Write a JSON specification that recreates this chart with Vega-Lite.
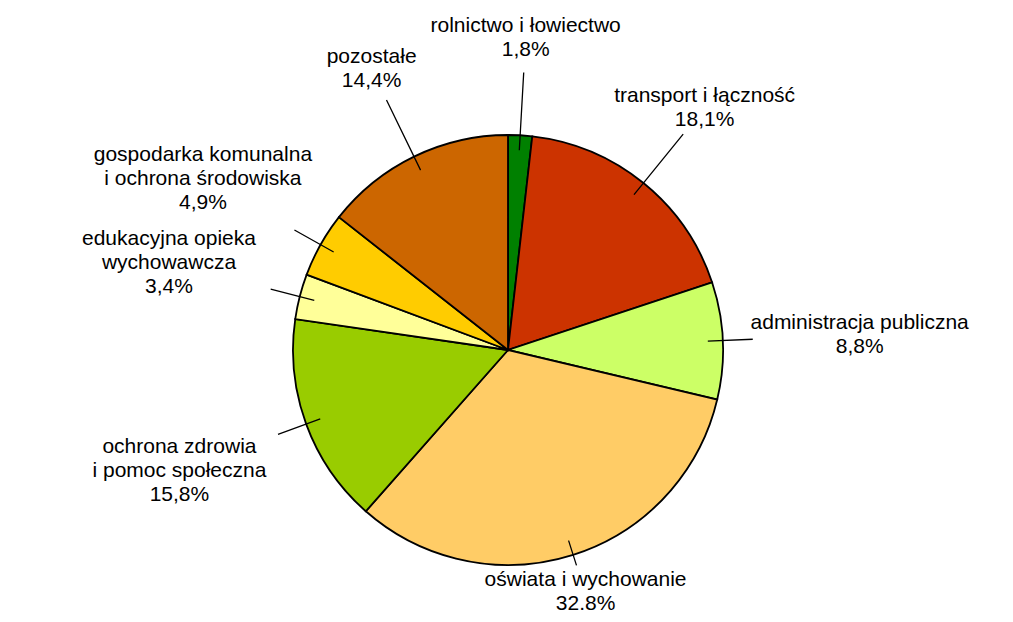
{
  "$schema": "https://vega.github.io/schema/vega-lite/v6.json",
  "width": 1016,
  "height": 540,
  "autosize": {"type": "none"},
  "padding": {"left": 0, "top": 80, "right": 0, "bottom": 0},
  "background": "white",
  "config": {"view": {"stroke": null}},
  "data": {
    "values": [
      {"o": 1, "cat": "rolnictwo i łowiectwo", "pct": 1.8, "label": "rolnictwo i łowiectwo\n1,8%"},
      {"o": 2, "cat": "transport i łączność", "pct": 18.1, "label": "transport i łączność\n18,1%"},
      {"o": 3, "cat": "administracja publiczna", "pct": 8.8, "label": "administracja publiczna\n8,8%"},
      {"o": 4, "cat": "oświata i wychowanie", "pct": 32.8, "label": "oświata i wychowanie\n32.8%"},
      {"o": 5, "cat": "ochrona zdrowia i pomoc społeczna", "pct": 15.8, "label": "ochrona zdrowia\ni pomoc społeczna\n15,8%"},
      {"o": 6, "cat": "edukacyjna opieka wychowawcza", "pct": 3.4, "label": "edukacyjna opieka\nwychowawcza\n3,4%"},
      {"o": 7, "cat": "gospodarka komunalna i ochrona środowiska", "pct": 4.9, "label": "gospodarka komunalna\ni ochrona środowiska\n4,9%"},
      {"o": 8, "cat": "pozostałe", "pct": 14.4, "label": "pozostałe\n14,4%"}
    ]
  },
  "encoding": {
    "theta": {"field": "pct", "type": "quantitative", "stack": true, "scale": {"domain": [0, 100]}},
    "order": {"field": "o", "type": "quantitative"},
    "detail": {"field": "cat", "type": "nominal"}
  },
  "layer": [
    {
      "mark": {"type": "arc", "radius": 215, "stroke": "#000000", "strokeWidth": 1.8},
      "encoding": {
        "color": {
          "field": "cat",
          "type": "nominal",
          "legend": null,
          "scale": {
            "domain": ["rolnictwo i łowiectwo", "transport i łączność", "administracja publiczna", "oświata i wychowanie", "ochrona zdrowia i pomoc społeczna", "edukacyjna opieka wychowawcza", "gospodarka komunalna i ochrona środowiska", "pozostałe"],
            "range": ["#008000", "#CC3300", "#CCFF66", "#FFCC66", "#99CC00", "#FFFF99", "#FFCC00", "#CC6600"]
          }
        }
      }
    },
    {
      "mark": {"type": "arc", "radius": 278, "radius2": 200, "padAngle": 3, "filled": false, "stroke": "#000000", "strokeWidth": 1.3},
      "encoding": {
        "strokeOpacity": {"condition": {"test": "datum.o == 1 || datum.o == 2 || datum.o == 8", "value": 1}, "value": 0}
      }
    },
    {
      "mark": {"type": "arc", "radius": 245, "radius2": 200, "padAngle": 3, "filled": false, "stroke": "#000000", "strokeWidth": 1.3},
      "encoding": {
        "strokeOpacity": {"condition": {"test": "datum.o == 3 || datum.o == 5 || datum.o == 6 || datum.o == 7", "value": 1}, "value": 0}
      }
    },
    {
      "mark": {"type": "arc", "radius": 226, "radius2": 200, "padAngle": 3, "filled": false, "stroke": "#000000", "strokeWidth": 1.3},
      "encoding": {
        "strokeOpacity": {"condition": {"test": "datum.o == 4", "value": 1}, "value": 0}
      }
    },
    {
      "mark": {"type": "text", "radius": 312, "dy": -12, "font": "Liberation Sans", "fontSize": 21, "lineHeight": 24, "lineBreak": "\n", "align": "center", "baseline": "middle", "fill": "#000000"},
      "encoding": {
        "text": {"condition": {"test": "datum.o == 1 || datum.o == 2 || datum.o == 8", "field": "label"}, "value": ""}
      }
    },
    {
      "mark": {"type": "text", "radius": 352, "dy": -12, "font": "Liberation Sans", "fontSize": 21, "lineHeight": 24, "lineBreak": "\n", "align": "center", "baseline": "middle", "fill": "#000000"},
      "encoding": {
        "text": {"condition": {"test": "datum.o == 3", "field": "label"}, "value": ""}
      }
    },
    {
      "mark": {"type": "text", "radius": 350, "dy": -24, "font": "Liberation Sans", "fontSize": 21, "lineHeight": 24, "lineBreak": "\n", "align": "center", "baseline": "middle", "fill": "#000000"},
      "encoding": {
        "text": {"condition": {"test": "datum.o == 5 || datum.o == 6 || datum.o == 7", "field": "label"}, "value": ""}
      }
    },
    {
      "mark": {"type": "text", "radius": 256, "dy": -14, "font": "Liberation Sans", "fontSize": 21, "lineHeight": 24, "lineBreak": "\n", "align": "center", "baseline": "middle", "fill": "#000000"},
      "encoding": {
        "text": {"condition": {"test": "datum.o == 4", "field": "label"}, "value": ""}
      }
    }
  ]
}
